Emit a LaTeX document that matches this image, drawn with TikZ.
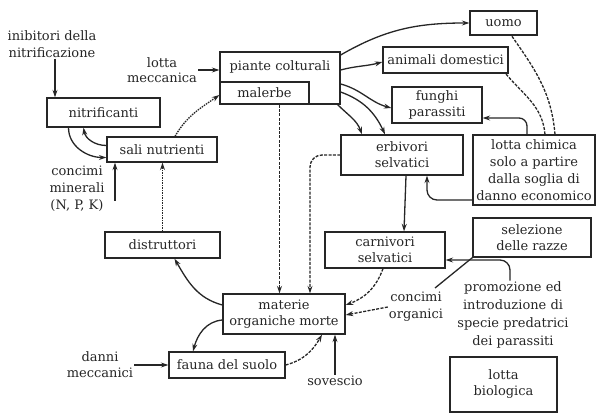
\documentclass[tikz,border=0pt]{standalone}
\usepackage{fontspec}
\setmainfont{DejaVu Serif}
\usetikzlibrary{arrows.meta,calc}
\definecolor{ink}{gray}{0.15}
\begin{document}
\begin{tikzpicture}[x=1pt,y=1pt,
  box/.style={draw=ink, text=ink, line width=1.3pt, inner sep=0pt, align=center, font=\fontsize{13}{16}\selectfont},
  lbl/.style={text=ink, inner sep=1pt, align=center, font=\fontsize{13}{17}\selectfont},
  conn/.style={draw=ink, line width=1.3pt},
  arr/.style={conn, -{Stealth[length=7.5pt,width=5pt]}},
  darr/.style={arr, dash pattern=on 3pt off 1.4pt},
  dline/.style={conn, dash pattern=on 3pt off 1.4pt},
  oarr/.style={arr, dash pattern=on 1.5pt off 1pt}]
\useasboundingbox (0,0) rectangle (596,415);
% boxes
\node[box, minimum width=67pt, minimum height=24pt] (uomo) at (503.5,392) {uomo};
\node[box, minimum width=125pt, minimum height=26pt] (anim) at (445.5,355) {animali domestici};
\node[box, minimum width=90pt, minimum height=36pt] (fung) at (437,310) {funghi\\parassiti};
\node[box, minimum width=122pt, minimum height=40pt] (erb) at (402,260) {erbivori\\selvatici};
\node[box, minimum width=122pt, minimum height=70pt, font=\fontsize{13}{17}\selectfont] (lchim) at (534,245) {lotta chimica\\solo a partire\\dalla soglia di\\danno economico};
\node[box, minimum width=118pt, minimum height=39pt] (sel) at (532,177.5) {selezione\\delle razze};
\node[box, minimum width=120pt, minimum height=36pt] (carn) at (385,165) {carnivori\\selvatici};
\node[box, minimum width=122pt, minimum height=40pt] (mat) at (284,101) {materie\\organiche morte};
\node[box, minimum width=116pt, minimum height=26pt] (fauna) at (227,50) {fauna del suolo};
\node[box, minimum width=115pt, minimum height=26pt] (distr) at (162.5,170) {distruttori};
\node[box, minimum width=110pt, minimum height=25pt] (sali) at (162,265.5) {sali nutrienti};
\node[box, minimum width=113pt, minimum height=29pt] (nitr) at (103.5,302.5) {nitrificanti};
\node[box, minimum width=120pt, minimum height=52pt] (piante) at (280,337) {};
\node[lbl] (pc) at (280,348) {piante colturali};
\node[box, minimum width=89pt, minimum height=22pt] (maler) at (264.5,322) {malerbe};
\node[box, minimum width=107pt, minimum height=55pt] (lbio) at (503.5,30.5) {lotta\\biologica};
% free texts
\node[lbl] (inib) at (52,371) {inibitori della\\nitrificazione};
\node[lbl, font=\fontsize{13}{15}\selectfont] (lmecc) at (162,345) {lotta\\meccanica};
\node[lbl] (cmin) at (77,226) {concimi\\minerali\\(N, P, K)};
\node[lbl, font=\fontsize{13}{16}\selectfont] (danni) at (100,50) {danni\\meccanici};
\node[lbl] (sov) at (335,34) {sovescio};
\node[lbl] (corg) at (416,108) {concimi\\organici};
\node[lbl, font=\fontsize{13}{18}\selectfont] (promo) at (513,100) {promozione ed\\introduzione di\\specie predatrici\\dei parassiti};
\coordinate (cm1) at (115,214);
\coordinate (co1) at (435,127);
% connectors
\draw[arr] ([xshift=3]inib.south) -- ([xshift=3]inib.south |- nitr.north);
\draw[arr] (lmecc.east) -- (lmecc.east -| piante.west);
\draw[arr] ([xshift=-35]nitr.south) to[out=-90,in=180] ([yshift=-8]sali.west);
\draw[arr] ([yshift=4]sali.west) to[out=180,in=-80] ([xshift=-20]nitr.south);
\draw[arr] (cm1) -- (cm1 |- sali.south);
\draw[oarr] (distr.north) -- (distr.north |- sali.south);
\draw[oarr] ([xshift=13]sali.north) to[out=60,in=215] ([yshift=-17]piante.west);
\draw[arr] ([yshift=23]piante.east) to[out=30,in=180] (uomo.west);
\draw[arr] ([yshift=8]piante.east) to[out=15,in=195] ([yshift=-2]anim.west);
\draw[arr] ([yshift=-6]piante.east) to[out=-15,in=165] ([yshift=-3]fung.west);
\draw[arr] ([yshift=-14]piante.east) to[out=-20,in=115] ([xshift=-17]erb.north);
\draw[arr] ([xshift=-3]piante.south east) to[out=-45,in=110] ([xshift=-40]erb.north);
\draw[darr] ([xshift=15]maler.south) -- ([xshift=15]maler.south |- mat.north);
\draw[darr, rounded corners=12pt] (erb.west) -| ([xshift=26]mat.north);
\draw[arr] ([xshift=4]erb.south) -- ([xshift=19]carn.north);
\draw[darr] ([xshift=-2]carn.south) to[out=-110,in=20] ([yshift=9]mat.east);
\draw[darr] (corg.west) -- ([yshift=-1]mat.east);
\draw[arr] (sov.north) -- (sov.north |- mat.south);
\draw[darr] (fauna.east) to[out=15,in=240] ([xshift=38]mat.south);
\draw[arr] ([yshift=-6]mat.west) to[out=185,in=75] ([xshift=-34]fauna.north);
\draw[arr] ([yshift=9]mat.west) to[out=165,in=-60] ([xshift=12]distr.south);
\draw[arr] (danni.east) -- (danni.east -| fauna.west);
\draw[dline] ([xshift=21]lchim.north) to[out=95,in=-55] ([xshift=8]uomo.south);
\draw[dline] ([xshift=11]lchim.north) to[out=95,in=-50] ([xshift=-3]anim.south east);
\draw[arr, rounded corners=8pt] ([xshift=-7]lchim.north) |- ([yshift=-13]fung.east);
\draw[arr, rounded corners=10pt] ([yshift=-30]lchim.west) -| ([xshift=25]erb.south);
\draw[arr, rounded corners=10pt] ([xshift=-3]promo.north) |- ([yshift=-10]carn.east);
\draw[conn] (co1) -- (sel.south west);
\end{tikzpicture}
\end{document}
